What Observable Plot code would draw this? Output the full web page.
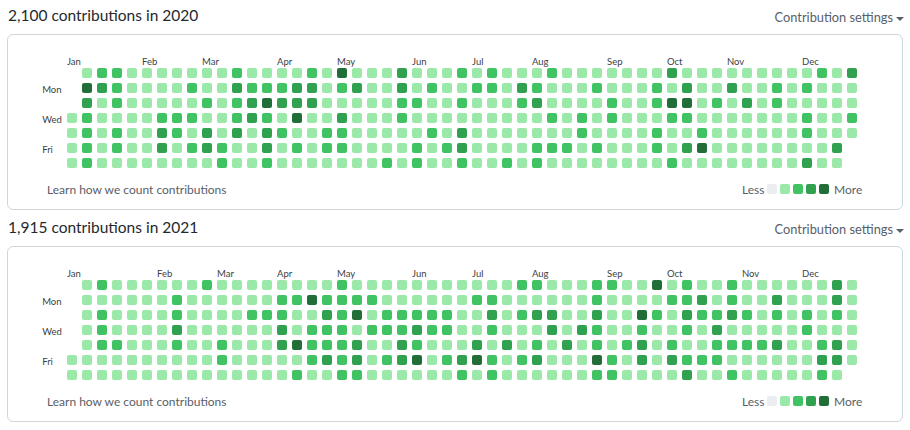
<!DOCTYPE html>
<html>
<head>
<meta charset="utf-8">
<script src="https://cdn.jsdelivr.net/npm/d3@7"></script>
<script src="https://cdn.jsdelivr.net/npm/@observablehq/plot@0.6"></script>
<style>
  html, body { margin: 0; padding: 0; background: #fff; }
  body { width: 910px; height: 430px; overflow: hidden; position: relative; font-family: Lato, "Open Sans", sans-serif; }
  .panel { position: absolute; left: 0; width: 910px; height: 212px; }
  .title { position: absolute; left: 8px; top: 8px; font-size: 15.5px; line-height: 15.5px; color: #24292e; white-space: nowrap; }
  .settings { position: absolute; right: 17px; top: 11px; font-size: 12.8px; line-height: 12.8px; color: #586069; white-space: nowrap; }
  .caret { position: absolute; left: 896px; top: 16.5px; width: 0; height: 0; border-left: 4px solid transparent; border-right: 4px solid transparent; border-top: 4px solid #586069; }
  .box { position: absolute; left: 7px; top: 34px; width: 896px; height: 176px; box-sizing: border-box; border: 1px solid #d1d5da; border-radius: 6px; }
  .grid { position: absolute; left: 0; top: 40px; }
  .small { position: absolute; top: 184px; font-size: 12px; line-height: 12px; color: #586069; white-space: nowrap; }
  .swatches { position: absolute; left: 767px; top: 184px; }
</style>
</head>
<body>
<script>
const years = [2020, 2021];
const totals = [2100, 1915];
const monthNames = ["Jan","Feb","Mar","Apr","May","Jun","Jul","Aug","Sep","Oct","Nov","Dec"];
const dayNames = ["", "Mon", "", "Wed", "", "Fri", ""];
const levelDomain = [0, 1, 2, 3, 4];
const levelColors = ["#ebedf0", "#9be9a8", "#40c463", "#30a14e", "#216e39"];

// rows = weekday (Sun..Sat), columns = week of the year (0..52); null = day outside the year
const levels2020 = [
  [null,1,2,2,1,1,1,1,1,1,1,2, 1,1,1,1,2,1,4,1,1,1,3,1,1, 1,2,1,2,1,1,1,2,1,1,1,1,1,1, 1,3,1,1,1,1,1,1,1,1,1,2,1,3],
  [null,4,3,2,1,1,1,1,2,1,1,3, 2,2,2,3,3,1,2,3,1,1,3,1,2, 1,1,2,2,1,3,2,1,1,1,2,1,1,1, 2,1,3,1,1,3,1,1,2,1,2,1,1,1],
  [null,3,1,2,1,1,1,1,1,2,1,2, 3,4,3,3,3,1,1,1,1,1,2,2,1, 1,2,1,1,1,2,3,1,1,1,1,2,1,1, 2,4,4,1,2,1,3,1,2,1,1,1,1,1],
  [1,2,1,1,1,1,2,2,2,1,1,2, 3,2,1,4,1,1,3,1,1,1,2,1,1, 1,1,1,1,1,1,1,2,1,2,1,2,1,1, 1,2,2,1,1,1,1,1,1,1,2,1,1,2],
  [1,2,1,2,1,1,3,2,1,3,1,3, 1,3,2,1,1,2,2,1,1,1,1,1,2, 1,3,1,1,1,1,1,1,1,2,1,1,1,1, 2,1,1,2,1,1,1,1,1,1,2,1,1,1],
  [1,2,1,2,1,1,3,1,2,3,2,1, 1,3,1,2,1,2,2,1,1,1,1,2,1, 2,3,1,1,1,1,2,2,2,1,2,1,1,1, 2,1,3,4,1,1,1,1,1,1,1,1,3,null],
  [1,2,1,1,1,1,1,1,1,1,2,1, 1,2,1,1,1,1,1,1,1,2,1,2,1, 1,2,1,1,2,1,2,1,1,1,1,1,1,1, 1,2,1,1,1,1,1,1,1,1,3,1,1,null]
];
const levels2021 = [
  [null,1,2,1,1,1,1,1,1,2,1,1, 1,1,1,1,1,1,2,1,1,1,1,1,1, 1,1,1,1,1,2,2,1,1,1,2,2,1,1, 4,1,2,1,1,2,1,1,1,1,1,1,3,1],
  [null,1,1,1,1,1,1,2,1,1,1,1, 1,1,2,2,4,2,2,2,2,1,1,1,1, 1,1,2,2,1,1,1,1,1,1,2,1,1,1, 1,2,2,3,1,2,1,1,3,1,1,1,3,1],
  [null,1,2,1,1,1,1,2,1,1,1,1, 2,2,2,1,1,3,2,4,1,2,2,2,2, 2,1,1,3,1,2,3,3,1,1,3,1,1,4, 2,1,3,2,2,3,2,1,2,1,2,1,2,1],
  [null,1,2,1,1,1,1,3,1,1,1,1, 1,1,3,1,2,2,2,1,2,2,2,3,2, 2,1,1,2,1,1,1,3,1,3,2,1,1,2, 1,1,2,1,3,1,1,1,1,1,2,1,1,1],
  [null,1,2,2,1,1,1,2,1,1,2,1, 1,1,3,4,2,2,2,3,1,1,3,2,1, 1,1,3,1,3,1,2,1,3,1,2,1,2,3, 1,2,1,1,2,2,2,2,3,1,1,2,3,1],
  [1,1,1,1,1,1,1,1,1,1,2,1, 1,1,1,1,2,3,2,3,1,2,3,4,1, 2,3,4,2,1,2,3,1,1,1,4,2,1,3, 1,3,2,2,2,1,1,1,1,1,1,3,3,1],
  [1,1,1,1,1,1,1,1,1,1,1,1, 1,1,1,2,1,1,2,2,1,1,1,1,1, 1,2,1,2,1,1,1,1,1,1,2,2,1,1, 1,1,3,1,1,2,1,1,1,1,1,2,1,null]
];
const levelsByYear = [levels2020, levels2021];

const labelColor = "#3a3f45";
const fmt = d3.format(",");

years.forEach((year, k) => {
  const panel = document.createElement("div");
  panel.className = "panel";
  panel.style.top = (k * 212) + "px";
  document.body.appendChild(panel);

  const add = (cls, text) => {
    const el = document.createElement("div");
    el.className = cls;
    if (text != null) el.textContent = text;
    panel.appendChild(el);
    return el;
  };
  add("box");
  add("title", `${fmt(totals[k])} contributions in ${year}`);
  add("settings", "Contribution settings");
  add("caret");

  const rows = levelsByYear[k];
  const cells = [];
  rows.forEach((r, day) => r.forEach((v, week) => { if (v != null) cells.push({week, day, level: v}); }));

  const jan1 = new Date(Date.UTC(year, 0, 1));
  const gridStart = d3.utcSunday.floor(jan1);
  const monthTicks = d3.utcMonths(jan1, new Date(Date.UTC(year + 1, 0, 1))).map((m, i) => ({
    week: i === 0 ? 0 : d3.utcSunday.count(gridStart, d3.utcSunday.ceil(m)),
    label: monthNames[i]
  }));

  const chart = Plot.plot({
    width: 910,
    height: 135,
    marginLeft: 64.5,
    marginRight: 50.5,
    marginTop: 25.5,
    marginBottom: 4.5,
    x: {type: "band", domain: d3.range(53), padding: 0, round: false, axis: null},
    y: {type: "band", domain: d3.range(7), padding: 0, round: false, axis: null},
    color: {type: "ordinal", domain: levelDomain, range: levelColors},
    style: {background: "transparent", fontFamily: "Lato, 'Open Sans', sans-serif", overflow: "visible"},
    marks: [
      Plot.cell(cells, {x: "week", y: "day", fill: "level", inset: 2.5, rx: 2}),
      Plot.text(monthTicks, {x: "week", text: "label", frameAnchor: "top", dx: -5.5, dy: -7.8,
        textAnchor: "start", fontSize: 9.5, fill: labelColor}),
      Plot.text(dayNames, {y: (d, i) => i, text: d => d, frameAnchor: "left", dx: -22.8, dy: 1.5,
        textAnchor: "start", fontSize: 9.5, fill: labelColor})
    ]
  });
  chart.classList.add("grid");
  panel.appendChild(chart);

  const learn = add("small", "Learn how we count contributions");
  learn.style.left = "47px";
  const less = add("small", "Less");
  less.style.left = "742px";
  const more = add("small", "More");
  more.style.left = "834px";

  const legend = Plot.plot({
    width: 65,
    height: 10,
    margin: 0,
    x: {type: "band", domain: levelDomain, padding: 0, round: false, axis: null},
    color: {type: "ordinal", domain: levelDomain, range: levelColors},
    style: {background: "transparent"},
    marks: [Plot.cell(levelDomain, {x: d => d, fill: d => d, insetRight: 3, rx: 2})]
  });
  legend.classList.add("swatches");
  panel.appendChild(legend);
});
</script>
</body>
</html>
